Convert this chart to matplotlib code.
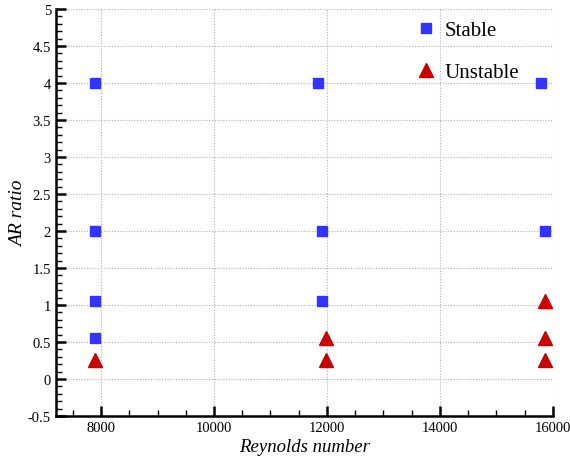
import matplotlib
matplotlib.use("Agg")
import matplotlib.pyplot as plt
from matplotlib.ticker import MultipleLocator

# Stability map: Reynolds number vs aspect ratio
stable_re = [7900, 7900, 7900, 7900, 11850, 11920, 11920, 15790, 15860]
stable_ar = [4.0, 2.0, 1.05, 0.55, 4.0, 2.0, 1.05, 4.0, 2.0]

unstable_re = [7900, 11975, 11975, 15865, 15865, 15865]
unstable_ar = [0.25, 0.55, 0.25, 1.05, 0.55, 0.25]

plt.rcParams["font.family"] = ["Liberation Serif", "DejaVu Serif"]

fig = plt.figure(figsize=(5.7, 4.6), dpi=100)
ax = fig.add_axes([0.0982, 0.0935, 0.8715, 0.8847])

ax.plot(stable_re, stable_ar, "s", color="#3333ff", markersize=7.2,
        linestyle="none", label="Stable", zorder=3)
ax.plot(unstable_re, unstable_ar, "^", color="#cc0000", markersize=9.5,
        linestyle="none", label="Unstable", zorder=3)

ax.set_xlim(7200, 16000)
ax.set_ylim(-0.5, 5)
ax.xaxis.set_major_locator(MultipleLocator(2000))
ax.xaxis.set_minor_locator(MultipleLocator(500))
ax.yaxis.set_major_locator(MultipleLocator(0.5))
ax.yaxis.set_minor_locator(MultipleLocator(0.1))
ax.yaxis.set_major_formatter(plt.FuncFormatter(lambda v, p: f"{v:g}"))

ax.grid(True, which="major", linestyle=(0, (1, 1.5)), color="#b0b0b0", linewidth=0.8)
ax.set_axisbelow(True)

for side in ["top", "right"]:
    ax.spines[side].set_visible(False)
for side in ["left", "bottom"]:
    ax.spines[side].set_linewidth(1.8)

ax.tick_params(which="major", direction="in", length=7, width=1.8, labelsize=10.5)
ax.tick_params(which="minor", direction="in", length=4, width=1.0)

ax.set_xlabel("Reynolds number", fontsize=13.5, style="italic", labelpad=3)
ax.set_ylabel("AR ratio", fontsize=14, style="italic", labelpad=1)

ax.legend(loc="upper left", bbox_to_anchor=(0.69, 1.008), frameon=False,
          fontsize=15, labelspacing=1.1, handletextpad=0.3, borderpad=0.2,
          handlelength=1.2)

plt.savefig("out.png", dpi=100)
plt.close()
